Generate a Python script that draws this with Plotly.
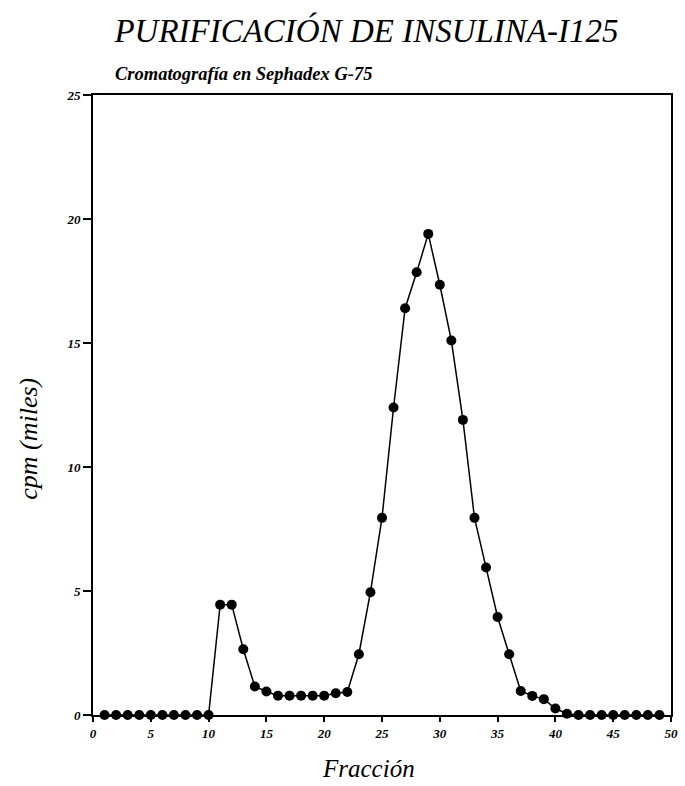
import plotly.graph_objects as go

fraccion = list(range(1, 50))
cpm_miles = [0, 0, 0, 0, 0, 0, 0, 0, 0, 0,
             4.45, 4.45, 2.65, 1.15, 0.95, 0.78, 0.78, 0.78, 0.78, 0.78,
             0.88, 0.93, 2.45, 4.95, 7.95, 12.4, 16.4, 17.85, 19.4, 17.35,
             15.1, 11.9, 7.95, 5.95, 3.95, 2.45, 0.97, 0.77, 0.64, 0.26,
             0.05, 0, 0, 0, 0, 0, 0, 0, 0]
x_ticks = [0, 5, 10, 15, 20, 25, 30, 35, 40, 45, 50]
y_ticks = [0, 5, 10, 15, 20, 25]

fig = go.Figure()
fig.add_trace(go.Scatter(
    x=fraccion, y=cpm_miles, mode="lines+markers",
    line=dict(color="black", width=1.5),
    marker=dict(color="black", size=10),
    showlegend=False, cliponaxis=False,
))

serif = "Liberation Serif, Times New Roman, serif"
fig.update_layout(
    width=685, height=786,
    margin=dict(l=93, r=7, t=95, b=71),
    paper_bgcolor="white", plot_bgcolor="white",
    title=dict(text="<i>PURIFICACIÓN DE INSULINA-I125</i>",
               x=0.535, xanchor="center", y=0.961, yanchor="middle",
               font=dict(family=serif, size=33, color="black")),
    annotations=[
        dict(text="<b><i>Cromatografía en Sephadex G-75</i></b>",
             xref="paper", yref="paper", x=0.035, y=1.0,
             xanchor="left", yanchor="bottom", yshift=9,
             showarrow=False,
             font=dict(family=serif, size=18.5, color="black")),
        dict(text="<i>cpm (miles)</i>", textangle=-90,
             xref="paper", yref="paper", x=-0.112, y=0.446,
             xanchor="center", yanchor="middle", showarrow=False,
             font=dict(family=serif, size=26, color="black")),
        dict(text="<i>Fracción</i>",
             xref="paper", yref="paper", x=0.477, y=0, yshift=-69,
             xanchor="center", yanchor="bottom", showarrow=False,
             font=dict(family=serif, size=25, color="black")),
    ],
    font=dict(family=serif, color="black"),
)
fig.update_xaxes(
    range=[0, 50], tickvals=x_ticks,
    ticktext=[f"<b><i>{v}</i></b>" for v in x_ticks],
    showgrid=False, zeroline=False,
    showline=True, linecolor="black", linewidth=2, mirror=True,
    ticks="outside", ticklen=5, tickwidth=1.5, tickcolor="black",
    tickfont=dict(family=serif, size=13, color="black"),
)
fig.update_yaxes(
    range=[0, 25], tickvals=y_ticks,
    ticktext=[f"<b><i>{v}</i></b>" for v in y_ticks],
    showgrid=False, zeroline=False,
    showline=True, linecolor="black", linewidth=2, mirror=True,
    ticks="outside", ticklen=8, tickwidth=1.5, tickcolor="black",
    tickfont=dict(family=serif, size=13, color="black"),
)

fig.write_html("out.html")
